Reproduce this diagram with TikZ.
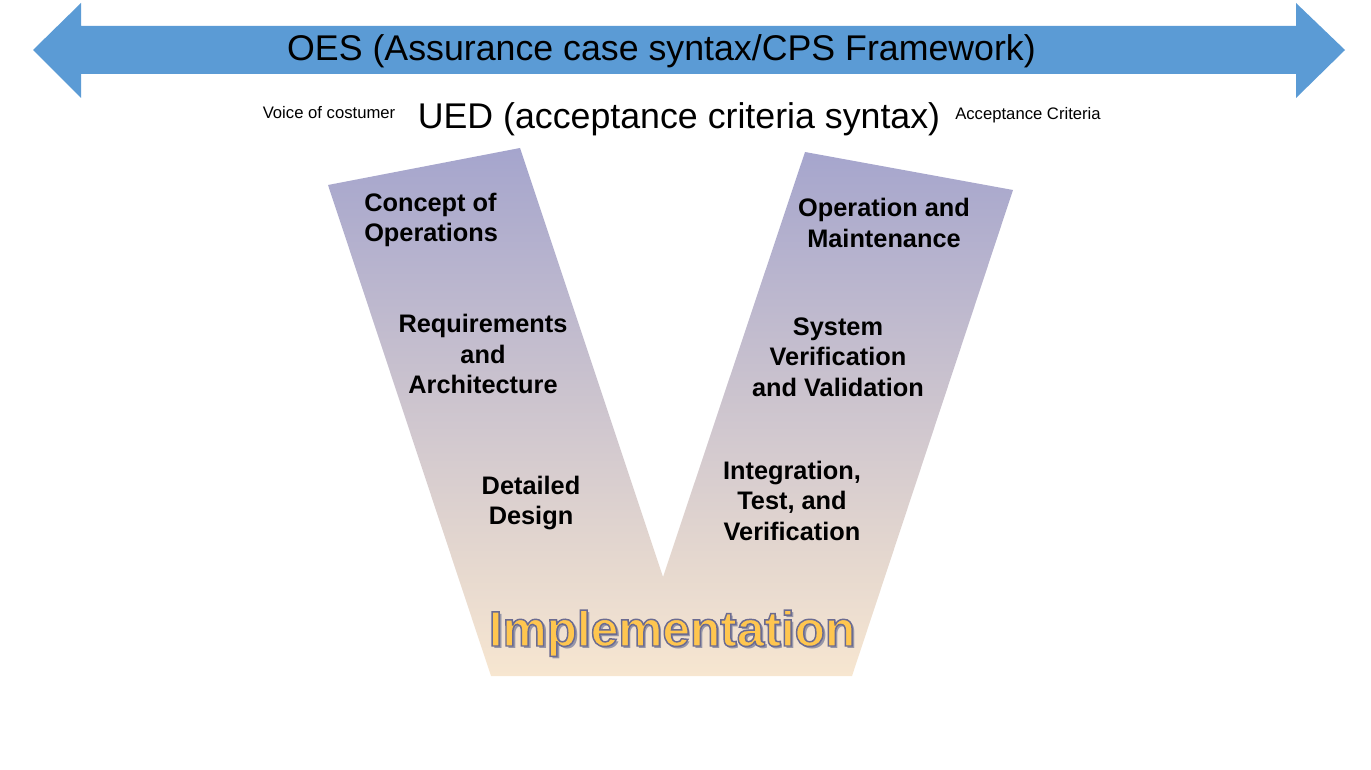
\documentclass[tikz,border=0pt]{standalone}
\usepackage{fontspec}
\setmainfont{Liberation Sans}
\usepackage{tikz}
\usetikzlibrary{positioning}
\definecolor{oesblue}{HTML}{5B9BD5}
\definecolor{vtop}{HTML}{A5A5CD}
\definecolor{vbot}{HTML}{F7E6D0}
\definecolor{implfill}{HTML}{FFC64F}
\definecolor{implshadow}{HTML}{9696A8}
\newcommand\edgedtext[1]{\special{pdf:literal direct 2 Tr 1.1 w 0.42 0.42 0.57 RG}#1\special{pdf:literal direct 0 Tr}}
\tikzset{
  stage/.style={font=\fontsize{19}{22.9}\selectfont\bfseries, align=center, inner sep=0pt},
  banner/.style={font=\fontsize{26.8}{31}\selectfont, inner sep=0pt, anchor=base},
  note/.style={font=\fontsize{12.5}{15}\selectfont, inner sep=0pt, anchor=base},
  impl/.style={font=\fontsize{37.2}{44}\selectfont\bfseries, inner sep=0pt, anchor=base}
}
\begin{document}
\begin{tikzpicture}[x=0.75pt,y=-0.75pt]
\useasboundingbox (0,0) rectangle (1371,770);
\fill[oesblue] (33,50) -- (81,3) -- (81,26) -- (1296,26) -- (1296,3) -- (1345,50)
  -- (1296,98) -- (1296,74) -- (81,74) -- (81,98) -- cycle;
\shade[top color=vtop, bottom color=vbot] (328,185) -- (520,148) -- (663,577) -- (805,152)
  -- (1013,190) -- (852,676) -- (491,676) -- cycle;
\node[banner] (oes) at (661.5,61) {OES (Assurance case syntax/CPS Framework)};
\node[banner] (ued) at (679,128.5) {UED (acceptance criteria syntax)};
\node[note] (voice) at (329,119) {Voice of costumer};
\node[note] (accept) at (1028,120) {Acceptance Criteria};
\node[stage, anchor=west, align=left] (conops) at (364,220) {Concept of\\Operations};
\node[stage] (reqarch) at (483,354) {Requirements\\and\\Architecture};
\node[stage] (detdes) at (531,503) {Detailed\\Design};
\node[stage] (opmaint) at (884,223) {Operation and\\Maintenance};
\node[stage] (sysvv) at (838,357) {System\\Verification\\and Validation};
\node[stage] (itv) at (792,500.5) {Integration,\\Test, and\\Verification};
\node[impl, text=implshadow] (implsh) at (674.5,648.5) {Implementation};
\node[impl, text=implfill] (impl) at (672,646) {\edgedtext{Implementation}};
\end{tikzpicture}
\end{document}
